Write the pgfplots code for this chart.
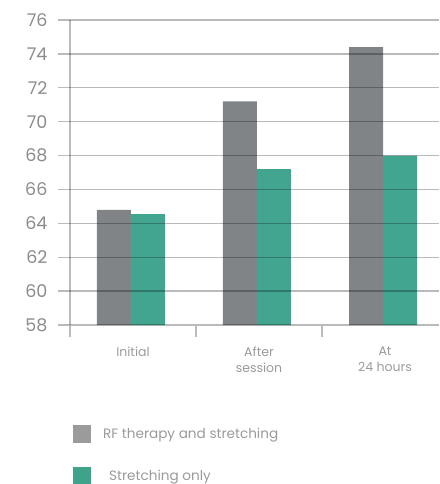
\documentclass[border=0pt]{standalone}
\usepackage{pgfplots}
\pgfplotsset{compat=1.18}
\usepackage{fontspec}
\setmainfont{Poppins}
\definecolor{bargray}{HTML}{808487}
\definecolor{barteal}{HTML}{42A58F}
\definecolor{leggray}{HTML}{9B9B9B}
\definecolor{legteal}{HTML}{3FA38C}
\definecolor{tickgray}{HTML}{8C8C8C}
\definecolor{labgray}{HTML}{9A9A9A}
\definecolor{linegray}{HTML}{BBBBBB}

\begin{document}
\begin{tikzpicture}
\begin{axis}[
  name=ax,
  scale only axis, width=381pt, height=305pt,
  xmin=-0.5952, xmax=2.4286, ymin=58, ymax=76,
  enlargelimits=false,
  ybar=0pt, bar width=34pt,
  axis line style={draw=none},
  axis on top,
  ytick={58,60,...,76},
  ymajorgrids,
  grid style={black, opacity=0.27, line width=1.3pt},
  xtick={0,1,2},
  xticklabels={Initial, After\\session, At\\24 hours},
  xticklabel style={align=center, font=\fontsize{12.5}{16}\selectfont, text=labgray, anchor=north, yshift=-18pt},
  yticklabel style={font=\fontsize{17.5}{20}\selectfont, text=tickgray, xshift=-7pt},
  /pgf/number format/assume math mode=true,
  xtick pos=bottom, ytick pos=left,
  tick align=inside,
  major tick style={draw=none},
  extra x ticks={-0.5,0.5,1.5},
  extra x tick labels={},
  extra x tick style={grid=none, tick align=outside, major tick length=12pt,
    major tick style={draw=linegray, line width=1.3pt}},
  legend image code/.code={\fill[#1] (0pt,-9pt) rectangle (18pt,9pt);},
  legend style={at={(0.0394,-0.328)}, anchor=north west, draw=none, fill=none,
    inner sep=0pt, row sep=24pt, font=\fontsize{13.6}{16}\selectfont, text=labgray,
    cells={anchor=west}},
  legend cell align=left,
]
\addplot[fill=bargray, draw=none, forget plot, bar shift=-19pt] coordinates {(0,64.8) (1,71.2) (2,74.4)};
\addplot[fill=barteal, draw=none, forget plot, bar shift=15pt] coordinates {(0,64.55) (1,67.2) (2,68.0)};
\draw[linegray, line width=1.3pt] (axis cs:-0.5,58) -- (axis cs:-0.5,76);
\addlegendimage{fill=leggray, draw=none}
\addlegendentry{\hspace{10pt}RF therapy and stretching}
\addlegendimage{fill=legteal, draw=none}
\addlegendentry{\hspace{16pt}Stretching only}
\end{axis}
\pgfresetboundingbox
\path[use as bounding box] ([xshift=-58pt,yshift=-159pt]ax.south west) rectangle ([yshift=20pt]ax.north east);
\end{tikzpicture}
\end{document}
